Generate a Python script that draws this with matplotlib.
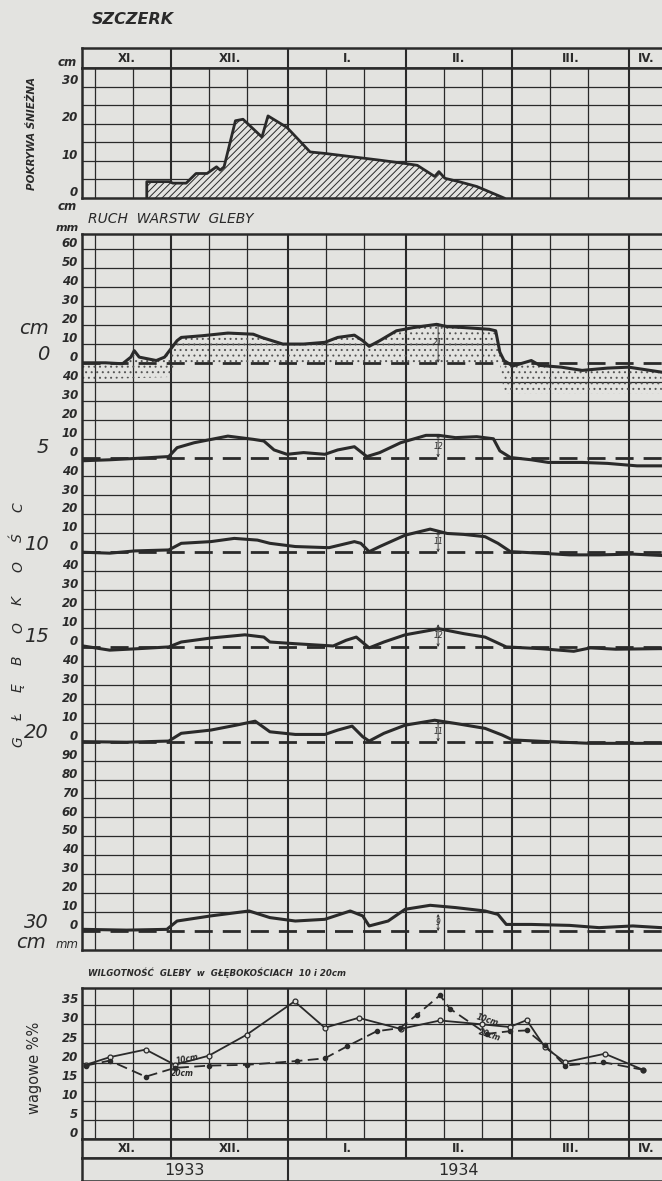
import numpy as np
import matplotlib.pyplot as plt
from matplotlib.transforms import blended_transform_factory

plt.rcParams['hatch.linewidth'] = 0.7
plt.rcParams['font.family'] = ['DejaVu Sans']

INK = '#2a2a2a'
PAPER = '#e3e3e0'
W, H = 662, 1181

# time axis: day 0 = 1 XI 1933
month_names = ['XI.', 'XII.', 'I.', 'II.', 'III.', 'IV.']
month_edges = [6.5, 30, 61, 92, 120, 151, 159.6]
grid_days = [10, 20, 30, 40, 50, 61, 71, 81, 92, 102, 112, 120, 130, 140, 151]
years = ['1933', '1934']

# snow cover (cm)
snow_days = [23.6, 23.6, 29.5, 30.5, 34, 36.6, 39.5, 42, 43, 44, 47, 49, 54, 55.6,
             60.6, 66.7, 70.6, 85, 91.7, 95, 99.6, 100.7, 102.3, 106, 110.7, 117.9]
snow_cm = [0, 4.4, 4.4, 4.0, 4.0, 6.6, 6.6, 8.4, 7.5, 8.4, 20.8, 21.2, 16.4, 22.1,
           19.0, 12.4, 12.0, 10.2, 9.3, 8.8, 5.8, 7.1, 5.3, 4.4, 3.1, 0]

# movement of soil layers (mm) at depths 0, 5, 10, 15, 20, 30 cm
lift0_days = [6.8, 12.7, 17.2, 19.4, 20.3, 21.6, 26.1, 28.3, 31.6, 32.7, 38.3, 45, 51.7,
              53.9, 59.5, 65, 70.6, 74, 78.4, 80.6, 82.3, 85.1, 89.5, 94, 100.1, 102.9,
              107.3, 114, 115.7, 116.8, 117.9, 120.2, 125.1, 127.4, 133, 138.5, 145.2,
              150.8, 159.4]
lift0_mm = [0, 0, -0.5, 3, 6.4, 3, 1.2, 3, 11.7, 13.4, 14.3, 15.7, 15.1, 13.4, 9.9, 9.9,
            10.8, 13.4, 14.6, 11.7, 8.7, 11.7, 16.9, 18.6, 20.3, 19.1, 18.6, 17.7, 16.9,
            5.6, 1.2, -1.7, 1.2, -1.4, -2.3, -4.0, -2.8, -2.3, -4.9]

lift5_days = [6.8, 13.8, 20.5, 29.4, 31.6, 36.1, 45, 51.7, 54.5, 57.2, 60.6, 65, 70.6, 74,
              78.4, 81.7, 85.1, 90.6, 97.3, 100.7, 105.1, 110.7, 115.1, 116.8, 119.6,
              125.1, 129.6, 138.5, 145.2, 153, 159.4]
lift5_mm = [-1.7, -1.2, -0.5, 0.5, 5.2, 7.8, 11.3, 9.6, 8.7, 4.0, 1.7, 2.6, 1.7, 4.0, 5.7,
            0.5, 2.6, 7.8, 11.7, 11.7, 10.5, 11.0, 9.9, 3.5, 0, -1.2, -2.6, -2.6, -3.1,
            -4.4, -4.4]

lift10_days = [6.8, 13.8, 20.5, 29.4, 32.7, 40.5, 46.7, 52.8, 56.1, 62.8, 71.7, 78.4, 80.1,
               82.3, 85.1, 91.8, 98.4, 102.9, 107.3, 112.9, 116.3, 119.6, 127.4, 135.2,
               143, 151.9, 159.4]
lift10_mm = [0, -0.5, 0.7, 1.2, 4.7, 5.6, 7.3, 6.4, 4.7, 3.0, 2.4, 5.6, 4.7, 0.3, 3.0, 9.0,
             12.2, 9.9, 9.4, 8.2, 4.7, 0.3, -0.5, -1.4, -1.4, -1.0, -1.7]

lift15_days = [6.8, 13.8, 21.6, 29.4, 32.7, 40.5, 49.5, 54.5, 56.1, 62.8, 72.8, 76.2, 78.9,
               82.3, 86.2, 91.8, 100.7, 107.3, 112.9, 118.5, 127.4, 136.3, 140.7, 147.4,
               159.4]
lift15_mm = [0.5, -1.7, -0.9, 0, 2.6, 4.7, 6.4, 5.2, 2.6, 1.7, 0.5, 3.5, 5.2, -0.5, 2.6,
             6.4, 9.6, 7.0, 5.2, 0, -0.9, -2.3, -0.5, -1.2, -0.9]

lift20_days = [6.8, 18.3, 29.4, 32.7, 40.5, 47.2, 52.2, 56.1, 62.8, 70.6, 74, 77.8, 80.6,
               82.3, 86.2, 91.8, 99.6, 105.1, 112.9, 117.4, 120.2, 129.6, 140.7, 159.4]
lift20_mm = [0, -0.3, 0.3, 4.4, 6.1, 8.7, 10.8, 5.2, 3.8, 3.8, 6.1, 8.2, 2.6, 0.3, 4.4,
             8.7, 11.3, 9.6, 7.0, 3.5, 0.9, 0, -0.9, -0.9]

lift30_days = [6.8, 18.3, 28.9, 31.6, 40.5, 50.6, 56.1, 62.8, 70.6, 77.3, 80.6, 82.3, 87.3,
               91.8, 98.4, 105.1, 112.9, 116.3, 118.5, 125.1, 135.2, 143, 151.9, 159.4]
lift30_mm = [0.9, 0.5, 0.9, 5.3, 8.0, 10.6, 7.1, 5.3, 6.2, 10.6, 8.0, 2.7, 5.3, 11.5, 13.6,
             12.4, 10.6, 8.8, 3.5, 3.5, 3.0, 1.8, 2.7, 1.8]

depths_cm = [0, 5, 10, 15, 20, 30]
lift_days = [lift0_days, lift5_days, lift10_days, lift15_days, lift20_days, lift30_days]
lift_mm = [lift0_mm, lift5_mm, lift10_mm, lift15_mm, lift20_mm, lift30_mm]
peak_mm = [21, 12, 11, 12, 11, 9]
peak_day = 100.5

# lower edge of the stippled (frozen) layer at the surface, mm
frost_days = [6.5, 29.4, 31.6, 116.8, 117.9, 159.6]
frost_mm = [-9, -7.5, 0, 0, -16, -16]

# soil moisture, weight %
moist10_days = [7.5, 13.8, 23.3, 31, 40, 50, 62.6, 70.6, 79.5, 90.6, 101, 112, 119.4,
                123.9, 128.7, 134, 144.5, 154.6]
moist10 = [19.4, 21.4, 23.4, 19.4, 21.8, 27.3, 36.0, 29.1, 31.7, 28.8, 31.0, 30.0, 29.3,
           31.1, 24.0, 20.1, 22.3, 18.1]
moist20_days = [7.5, 13.8, 23.3, 31, 40, 50, 63.2, 70.6, 76.4, 84.3, 90.4, 94.8, 101,
                103.6, 113.3, 119.4, 123.9, 128.7, 134, 144, 154.6]
moist20 = [19.2, 20.5, 16.3, 18.6, 19.2, 19.4, 20.4, 21.1, 24.2, 28.2, 29.0, 32.4, 37.6,
           34.1, 27.5, 28.2, 28.4, 24.5, 19.2, 20.1, 18.1]


def box(x0, y0, x1, y1):
    return [x0 / W, 1 - y1 / H, (x1 - x0) / W, (y1 - y0) / H]


def ftext(x, y, s, **kw):
    kw.setdefault('color', INK)
    fig.text(x / W, 1 - y / H, s, **kw)


def frame(ax, lw=1.8):
    ax.set_xlim(month_edges[0], month_edges[-1])
    ax.set_facecolor(PAPER)
    ax.set_xticks([])
    ax.set_yticks([])
    for side in ['left', 'top', 'bottom']:
        ax.spines[side].set_linewidth(lw)
        ax.spines[side].set_color(INK)
    ax.spines['right'].set_visible(False)


def vgrid(ax, only_months=False):
    for d in grid_days:
        if d in month_edges:
            ax.axvline(d, color=INK, lw=1.5, zorder=1)
        elif not only_months:
            ax.axvline(d, color=INK, lw=0.9, zorder=1)


def month_row(ax):
    frame(ax)
    ax.set_ylim(0, 1)
    vgrid(ax, only_months=True)
    for i, name in enumerate(month_names):
        ax.text((month_edges[i] + month_edges[i + 1]) / 2, 0.5, name, ha='center',
                va='center', fontsize=8.5, fontweight='bold', color=INK)


fig = plt.figure(figsize=(W / 100, H / 100), dpi=100, facecolor=PAPER)
tick_kw = dict(ha='right', va='baseline', fontsize=8.5, fontweight='bold',
               style='italic', color=INK)

# ---- snow cover ----
ax_head = fig.add_axes(box(82, 48, 662, 68))
month_row(ax_head)

ax_snow = fig.add_axes(box(82, 68, 662, 198))
frame(ax_snow)
ax_snow.set_ylim(0, 35)
vgrid(ax_snow)
for v in range(5, 35, 5):
    ax_snow.axhline(v, color=INK, lw=0.9, zorder=1)
ax_snow.fill_between(snow_days, snow_cm, 0, facecolor=PAPER, edgecolor=INK,
                     hatch='/////', linewidth=0, zorder=2)
ax_snow.plot(snow_days, snow_cm, color=INK, lw=2.0, zorder=3)
tr = blended_transform_factory(ax_snow.transAxes, ax_snow.transData)
for v in [0, 10, 20, 30]:
    ax_snow.text(-0.007, v + 0.6, str(v), transform=tr, **tick_kw)

# ---- soil layer movement ----
ax_soil = fig.add_axes(box(82, 234, 662, 950))
frame(ax_soil)
ax_soil.set_ylim(-1, 36.8)
vgrid(ax_soil)
bases = [30 - d for d in depths_cm]
tr = blended_transform_factory(ax_soil.transAxes, ax_soil.transData)
for k in range(0, 37):
    below = max(b for b in bases if b <= k)
    if k not in bases:
        ax_soil.axhline(k, color=INK, lw=0.9, zorder=1)
    ax_soil.text(-0.007, k + 0.1, str(10 * (k - below)), transform=tr, **tick_kw)

for base in bases:
    ax_soil.axhline(base, color=INK, lw=2.0, dashes=(6.5, 3.6), zorder=2)

b0 = bases[0]
poly_x = list(lift0_days) + frost_days[::-1]
poly_y = [b0 + m / 10 for m in lift0_mm] + [b0 + m / 10 for m in frost_mm[::-1]]
ax_soil.fill(poly_x, poly_y, facecolor='none', edgecolor='#555555', hatch='...',
             linewidth=0, zorder=2)

for base, days, mm, pk in zip(bases, lift_days, lift_mm, peak_mm):
    ax_soil.plot(days, [base + m / 10 for m in mm], color=INK, lw=2.2, zorder=4,
                 solid_joinstyle='round')
    ax_soil.annotate('', xy=(peak_day, base + pk / 10), xytext=(peak_day, base),
                     arrowprops=dict(arrowstyle='<->', lw=0.6, color=INK,
                                     mutation_scale=4, shrinkA=0, shrinkB=0), zorder=5)
    ax_soil.text(peak_day, base + pk / 20, str(pk), fontsize=5.5, style='italic',
                 ha='center', va='center', color=INK, zorder=5)

# ---- soil moisture ----
ax_m = fig.add_axes(box(82, 988, 662, 1139))
frame(ax_m)
ax_m.set_ylim(0, 39.5)
vgrid(ax_m)
for v in range(5, 40, 5):
    ax_m.axhline(v, color=INK, lw=0.9, zorder=1)
tr = blended_transform_factory(ax_m.transAxes, ax_m.transData)
for v in range(0, 40, 5):
    ax_m.text(-0.007, v + 0.5, str(v), transform=tr, **tick_kw)
ax_m.plot(moist10_days, moist10, color=INK, lw=1.3, marker='o', ms=3.5, mfc=PAPER,
          mec=INK, mew=0.9, zorder=3)
ax_m.plot(moist20_days, moist20, color=INK, lw=1.3, ls=(0, (6, 3)), marker='o', ms=3,
          mfc=INK, mec=INK, zorder=3)
lab_kw = dict(fontsize=5.5, style='italic', fontweight='bold', color=INK, ha='center',
              va='center', zorder=4)
ax_m.text(34.2, 21, '10cm', rotation=12, **lab_kw)
ax_m.text(32.9, 17.1, '20cm', **lab_kw)
ax_m.text(113.4, 31, '10cm', rotation=-18, **lab_kw)
ax_m.text(114.2, 27.1, '20cm', rotation=-18, **lab_kw)

ax_mon = fig.add_axes(box(82, 1139, 662, 1158))
month_row(ax_mon)

ax_year = fig.add_axes(box(82, 1158, 662, 1181))
frame(ax_year)
ax_year.set_ylim(0, 1)
ax_year.axvline(month_edges[2], color=INK, lw=1.5)
ax_year.text(33.5, 0.45, years[0], ha='center', va='center', fontsize=11.5, color=INK)
ax_year.text(106, 0.45, years[1], ha='center', va='center', fontsize=11.5, color=INK)

# ---- free texts ----
ftext(92, 20, 'SZCZERK', fontsize=11.5, fontweight='bold', style='italic', va='center')
ftext(32, 133, 'POKRYWA ŚNIEŻNA', fontsize=7.5, fontweight='bold', style='italic',
      rotation=90, ha='center', va='center')
ftext(67, 62, 'cm', fontsize=8.5, fontweight='bold', style='italic', ha='center', va='center')
ftext(67, 206, 'cm', fontsize=8.5, fontweight='bold', style='italic', ha='center', va='center')
ftext(88, 219, 'RUCH  WARSTW  GLEBY', fontsize=10, style='italic', va='center')
ftext(67, 228, 'mm', fontsize=8, fontweight='bold', style='italic', ha='center', va='center')

big = dict(fontsize=14, style='italic', ha='right', va='center')
ftext(49, 329, 'cm', **big)
for d, y in zip(depths_cm, [354, 448, 544, 637, 732, 923]):
    ftext(49, y, str(d), **big)
ftext(46, 943, 'cm', **big)
ftext(67, 945, 'mm', fontsize=8.5, style='italic', ha='center', va='center')

for ch, y in zip('GŁĘBOKOŚC', [742, 717, 688, 660, 628, 600, 567, 538, 507]):
    ftext(18, y, ch, fontsize=10, style='italic', rotation=90, ha='center', va='center')

ftext(88, 973, 'WILGOTNOŚĆ  GLEBY  w  GŁĘBOKOŚCIACH  10 i 20cm', fontsize=6.2,
      fontweight='bold', style='italic', va='center')
ftext(34, 1068, 'wagowe %%', fontsize=10.5, rotation=90, ha='center', va='center')

fig.savefig('out.png', dpi=100, facecolor=PAPER)
